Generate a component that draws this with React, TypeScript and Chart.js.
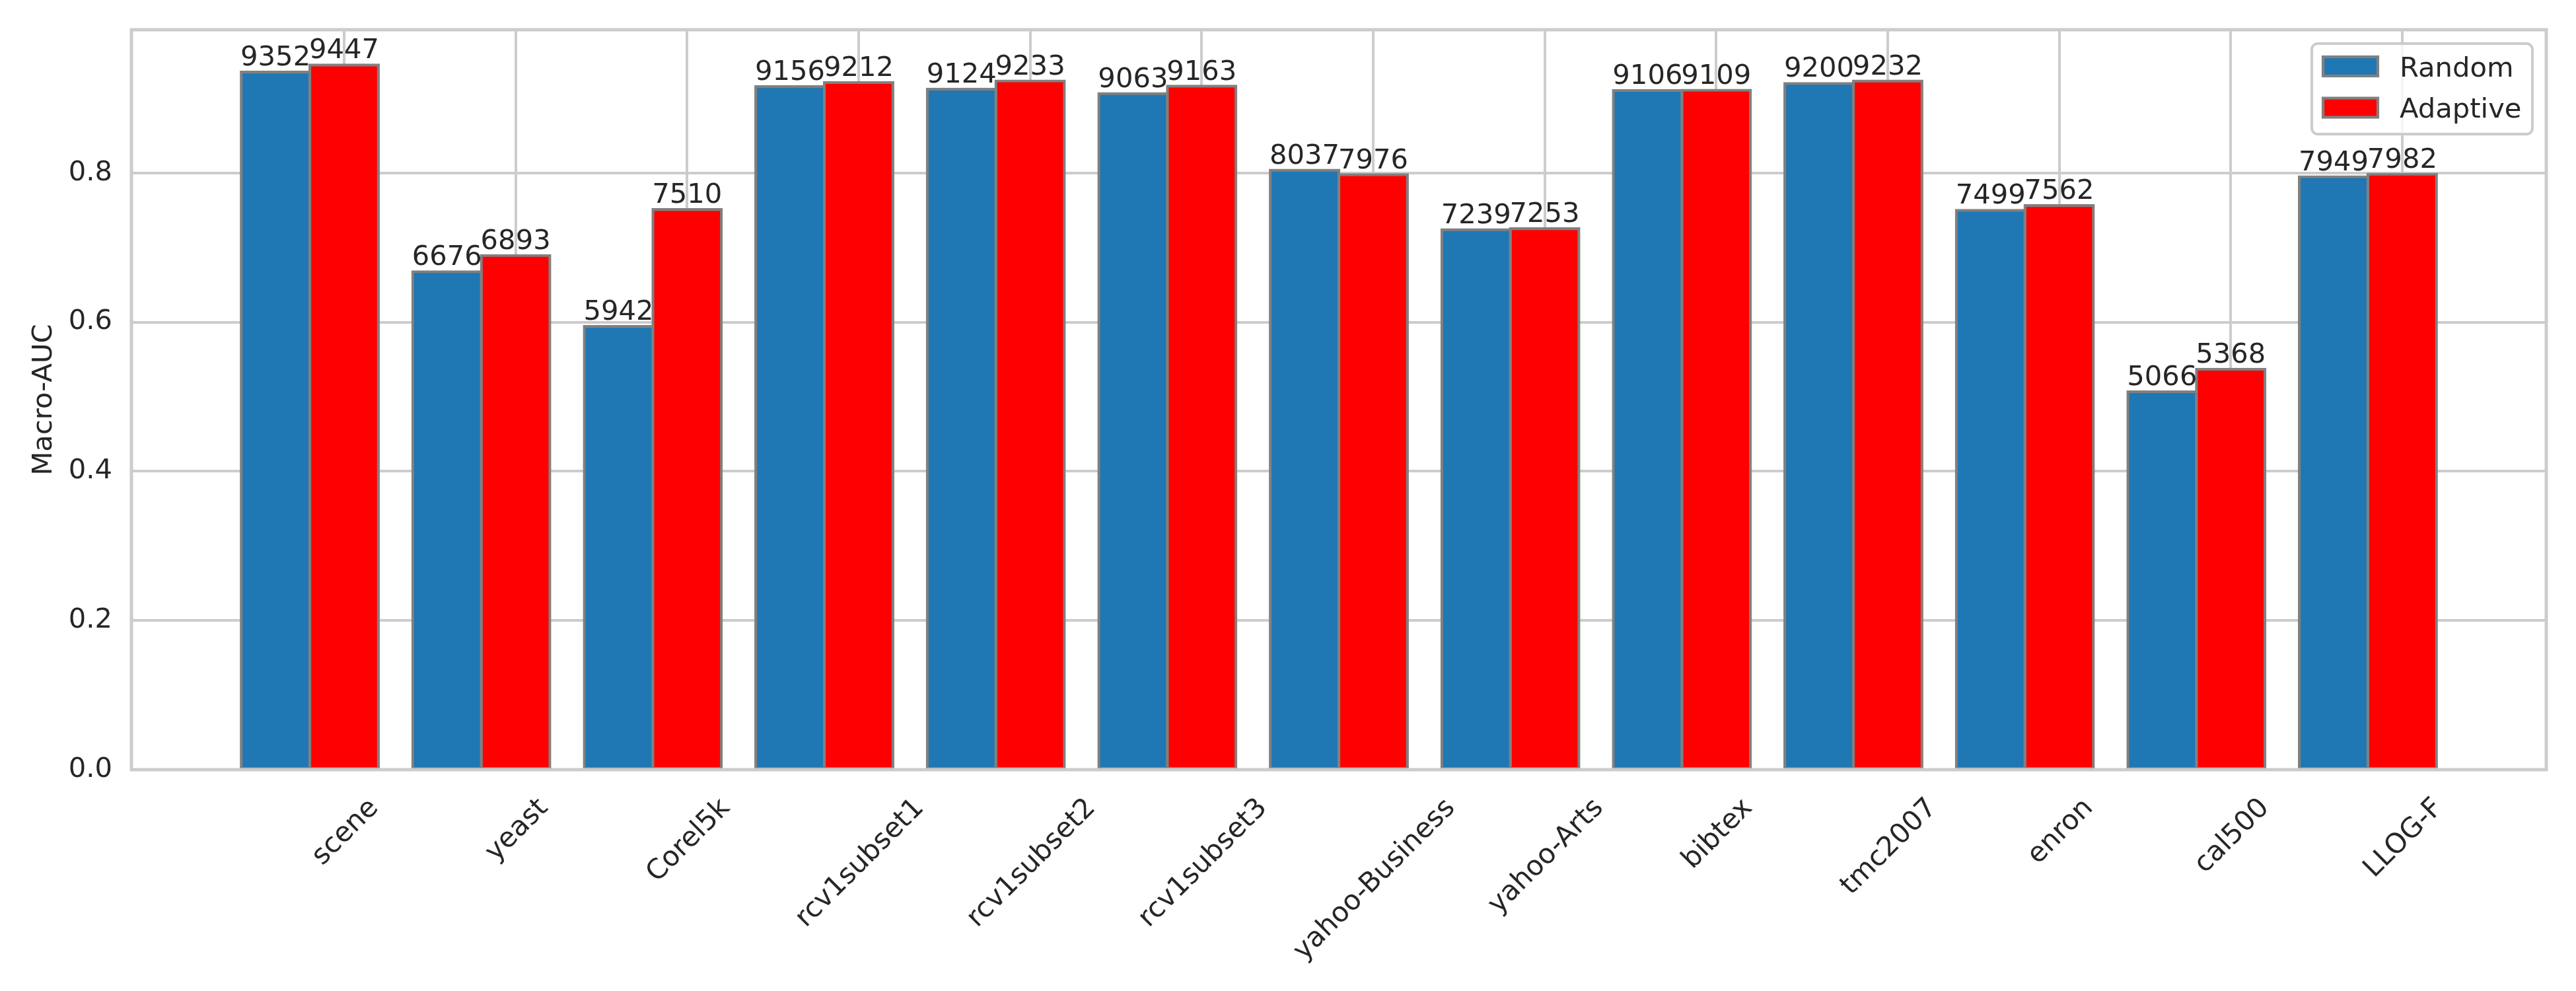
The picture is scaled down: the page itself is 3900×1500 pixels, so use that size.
import React, { useEffect, useRef } from 'react';
import { Chart, registerables } from 'chart.js';

Chart.register(...registerables);

const categories = ['scene', 'yeast', 'Corel5k', 'rcv1subset1', 'rcv1subset2', 'rcv1subset3', 'yahoo-Business', 'yahoo-Arts', 'bibtex', 'tmc2007', 'enron', 'cal500', 'LLOG-F'];
const randomValues = [0.9352, 0.6676, 0.5942, 0.9156, 0.9124, 0.9063, 0.8037, 0.7239, 0.9106, 0.9200, 0.7499, 0.5066, 0.7949];
const adaptiveValues = [0.9447, 0.6893, 0.7510, 0.9212, 0.9233, 0.9163, 0.7976, 0.7253, 0.9109, 0.9232, 0.7562, 0.5368, 0.7982];
const seriesLabels = ['Random', 'Adaptive'];
const yTickValues = [0, 0.2, 0.4, 0.6, 0.8];
const yTitle = 'Macro-AUC';

const FONT = 'DejaVu Sans';
const FS = 41.7;
const TEXT = '#262626';
const GRID = '#cccccc';
const TICK_SHIFT = 0.2; // ticks sit under the second bar of each group
const seriesValues = [randomValues, adaptiveValues];

const n = categories.length;
const span = (n - 1) + 0.8;
const xMin = -0.4 - 0.05 * span;
const xMax = (n - 1) + 0.4 + 0.05 * span;
const yMax = Math.max(...randomValues, ...adaptiveValues) * 1.05;

const overlayPlugin = {
  id: 'overlay',
  afterDatasetsDraw(chart: any) {
    const { ctx, chartArea: a } = chart;
    ctx.save();
    // spines on top of bars
    ctx.strokeStyle = GRID;
    ctx.lineWidth = 5;
    ctx.strokeRect(a.left, a.top, a.right - a.left, a.bottom - a.top);

    // value labels
    ctx.font = `${FS}px "${FONT}"`;
    ctx.fillStyle = TEXT;
    ctx.textAlign = 'center';
    ctx.textBaseline = 'alphabetic';
    chart.data.datasets.forEach((ds: any, di: number) => {
      const meta = chart.getDatasetMeta(di);
      meta.data.forEach((bar: any, i: number) => {
        const v = seriesValues[di][i];
        ctx.fillText(v.toFixed(4).slice(2), bar.x, bar.y - 0.236 * FS);
      });
    });

    // rotated category labels (centered on tick like matplotlib)
    const xs = chart.scales.x;
    categories.forEach((c, i) => {
      const px = xs.getPixelForValue(i + TICK_SHIFT);
      const w = ctx.measureText(c).width;
      const h = 1.164 * FS;
      const bh = (w + h) / Math.SQRT2;
      const cy = a.bottom + 32 + bh / 2;
      ctx.save();
      ctx.translate(px, cy);
      ctx.rotate(-Math.PI / 4);
      ctx.textAlign = 'center';
      ctx.fillText(c, 0, 0.346 * FS);
      ctx.restore();
    });

    // legend
    const bw = 334, bhh = 137;
    const bx = a.right - 21 - bw;
    const by = a.top + 21;
    ctx.beginPath();
    if ((ctx as any).roundRect) (ctx as any).roundRect(bx, by, bw, bhh, 9);
    else ctx.rect(bx, by, bw, bhh);
    ctx.fillStyle = 'rgba(255,255,255,0.8)';
    ctx.fill();
    ctx.strokeStyle = GRID;
    ctx.lineWidth = 4;
    ctx.stroke();
    chart.data.datasets.forEach((ds: any, di: number) => {
      const cy = by + 34.5 + di * 62.5;
      ctx.fillStyle = ds.backgroundColor;
      ctx.fillRect(bx + 17, cy - 14.5, 83, 29);
      ctx.strokeStyle = ds.borderColor;
      ctx.lineWidth = 4.17;
      ctx.strokeRect(bx + 17, cy - 14.5, 83, 29);
      ctx.fillStyle = TEXT;
      ctx.textAlign = 'left';
      ctx.textBaseline = 'alphabetic';
      ctx.fillText(ds.label, bx + 133, cy + 0.729 * FS / 2);
    });
    ctx.restore();
  },
};

export default function App() {
  const ref = useRef<HTMLCanvasElement | null>(null);
  useEffect(() => {
    if (!ref.current) return;
    Chart.defaults.font.family = FONT;
    const colors = ['#1f77b4', '#ff0000'];
    const chart = new Chart(ref.current, {
      type: 'bar',
      data: {
        datasets: seriesValues.map((vals, di) => ({
          label: seriesLabels[di],
          data: vals.map((y, i) => ({ x: i, y })),
          backgroundColor: colors[di],
          borderColor: '#808080',
          borderWidth: 4.17,
          borderSkipped: false,
          inflateAmount: 2.08,
          barPercentage: 1,
          categoryPercentage: 0.8,
        })),
      },
      options: {
        responsive: false,
        animation: false,
        devicePixelRatio: 1,
        layout: { padding: { left: 0, top: 45, right: 45, bottom: 0 } },
        plugins: { legend: { display: false }, tooltip: { enabled: false } },
        scales: {
          x: {
            type: 'linear',
            min: xMin,
            max: xMax,
            offset: false,
            grid: { offset: false, color: GRID, lineWidth: 4, drawTicks: false },
            border: { display: false },
            ticks: { display: false },
            afterBuildTicks: (s: any) => {
              s.ticks = categories.map((_, i) => ({ value: i + TICK_SHIFT }));
            },
            afterFit: (s: any) => {
              s.height = 335;
              s.paddingLeft = 0;
              s.paddingRight = 0;
            },
          },
          y: {
            type: 'linear',
            min: 0,
            max: yMax,
            grid: { color: GRID, lineWidth: 4, drawTicks: false },
            border: { display: false },
            ticks: {
              padding: 29,
              font: { family: FONT, size: FS },
              color: TEXT,
              callback: (v: any) => Number(v).toFixed(1),
            },
            afterBuildTicks: (s: any) => {
              s.ticks = yTickValues.map((v) => ({ value: v }));
            },
            title: {
              display: true,
              text: yTitle,
              font: { family: FONT, size: FS },
              color: TEXT,
              padding: { top: 42, bottom: 0 },
            },
            afterFit: (s: any) => {
              s.width = 199;
              s.paddingTop = 0;
              s.paddingBottom = 0;
            },
          },
        },
      } as any,
      plugins: [overlayPlugin],
    });
    return () => chart.destroy();
  }, []);
  return (
    <div style={{ position: 'absolute', left: 0, top: 0, width: 3900, height: 1500, background: '#ffffff' }}>
      <canvas ref={ref} width={3900} height={1500} style={{ width: 3900, height: 1500, display: 'block' }} />
    </div>
  );
}
